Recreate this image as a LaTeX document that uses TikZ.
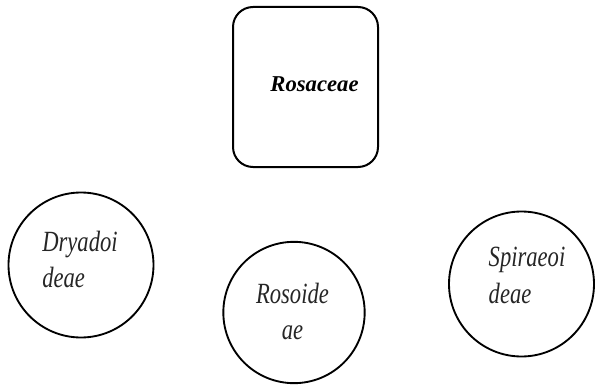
\documentclass[tikz,border=0pt]{standalone}
\usepackage{fontspec}
\setmainfont{Liberation Serif}
\newfontfamily\narrowserif[FakeStretch=0.77]{Liberation Serif}
\usepackage{tikz}
\usetikzlibrary{positioning,calc}

\begin{document}
\begin{tikzpicture}[
  x=0.75pt,y=-0.75pt,
  fam/.style={draw,line width=1.5pt,rounded corners=15pt,
              minimum width=108.75pt,minimum height=120pt,inner sep=0pt},
  sub/.style={draw,line width=1.4pt,circle,minimum size=108.75pt,inner sep=0pt},
  famlbl/.style={font=\fontsize{17}{20}\selectfont\bfseries\itshape,inner sep=0pt},
  sublbl/.style={font=\narrowserif\fontsize{22}{27.5}\selectfont\itshape,
                 text=black!85,inner sep=0pt},
]
  \useasboundingbox (0,0) rectangle (603,385);

  \node[fam] (rosa) at (305.5,87) {};
  \node[sub] (dry) at (81,265) {};
  \node[sub,minimum size=106pt] (ros) at (294,312.5) {};
  \node[sub] (spi) at (521.5,284) {};

  \node[famlbl] (rosat) at ($(rosa.center)+(9,-2.5)$) {Rosaceae};
  \node[sublbl,align=left] (dryt) at ($(dry.center)+(-1,-5.5)$) {Dryadoi\\deae};
  \node[sublbl,align=center] (rost) at ($(ros.center)+(-1.5,-1)$) {Rosoide\\ae};
  \node[sublbl,align=left] (spit) at ($(spi.center)+(5.5,-8.5)$) {Spiraeoi\\deae};
\end{tikzpicture}
\end{document}
